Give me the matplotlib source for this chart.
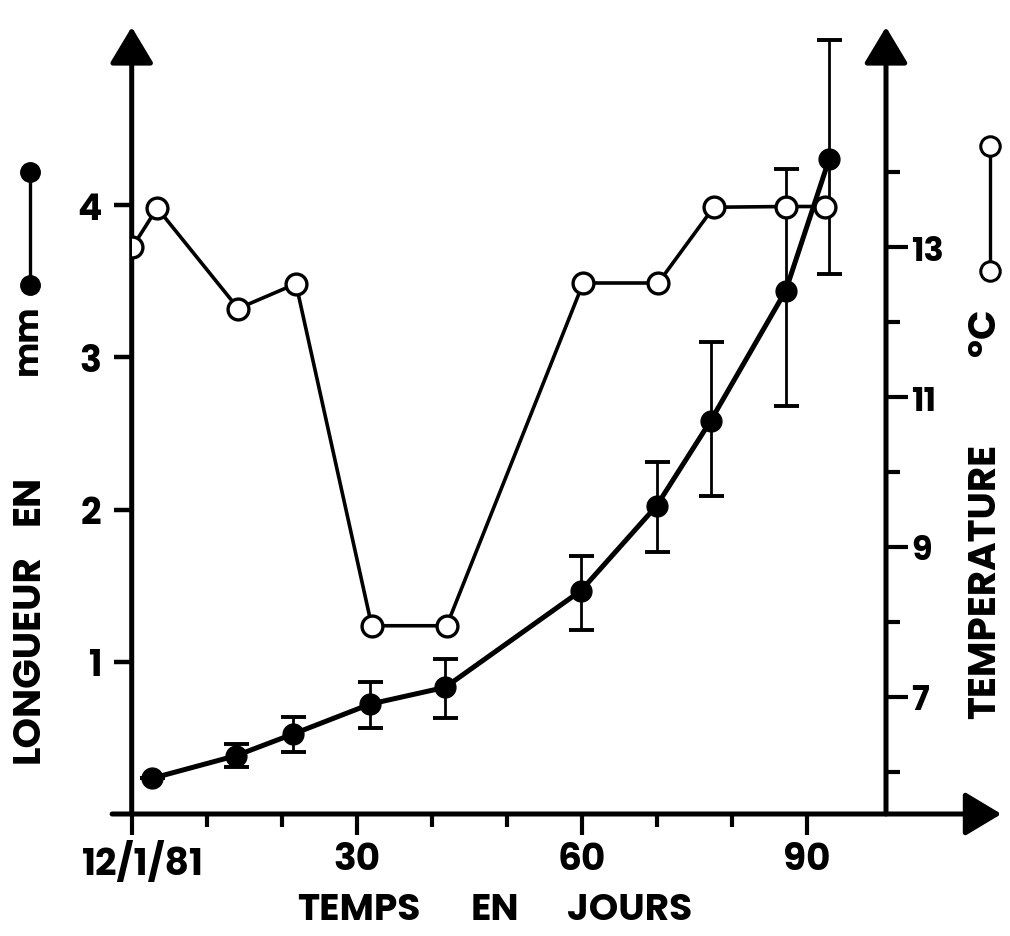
import matplotlib
matplotlib.use("Agg")
import matplotlib.pyplot as plt
from matplotlib.lines import Line2D
from matplotlib.patches import ArrowStyle
from matplotlib.ticker import FixedLocator
from matplotlib.transforms import ScaledTranslation

# ---------------- data ----------------
days_len = [2.7, 13.9, 21.5, 31.8, 41.8, 59.9, 70.0, 77.2, 87.2, 93.0]
length_mm = [0.234, 0.383, 0.525, 0.722, 0.832, 1.467, 2.025, 2.583, 3.437, 4.302]
length_low = [0.234, 0.307, 0.409, 0.565, 0.629, 1.211, 1.719, 2.09, 2.68, 3.547]
length_high = [0.234, 0.46, 0.635, 0.865, 1.018, 1.697, 2.314, 3.10, 4.235, 5.086]

days_temp = [0.1, 3.4, 14.2, 21.9, 32.0, 42.0, 60.2, 70.2, 77.6, 87.2, 92.5]
temp_c = [13.0, 13.52, 12.18, 12.51, 7.95, 7.95, 12.52, 12.52, 13.53, 13.54, 13.54]

x_major = [0, 30, 60, 90]
x_major_labels = ["12/1/81", "30", "60", "90"]
x_minor = [10, 20, 40, 50, 70, 80]
len_ticks = [1, 2, 3, 4]
temp_major = [7, 9, 11, 13]
temp_minor = [6, 8, 10, 12, 14]

# ---------------- fonts ----------------
FONT = ["Poppins", "Montserrat", "Liberation Sans", "DejaVu Sans"]

W, H = 1010, 937
fig = plt.figure(figsize=(W / 100, H / 100), dpi=100)
x0, x1 = 131.7, 886.0
y0, y1 = 815.0, 28.0
ax = fig.add_axes([x0 / W, (H - y0) / H, (x1 - x0) / W, (y0 - y1) / H])
ax.set_xlim(0, (x1 - x0) / 7.5)
ax.set_ylim(0, (y0 - y1) / 152.25)
for s in ax.spines.values():
    s.set_visible(False)

ax2 = ax.twinx()
ax2.set_ylim(13 - (y0 - 248) / 75.0, 13 + (248 - y1) / 75.0)
for s in ax2.spines.values():
    s.set_visible(False)

# ---------------- hand-drawn style axes with arrows ----------------
arrow = ArrowStyle("-|>", head_length=0.45, head_width=0.27)
kw = dict(arrowprops=dict(arrowstyle=arrow, mutation_scale=50, lw=3.6, color="black",
                          shrinkA=0, shrinkB=0),
          xycoords="axes fraction", textcoords="axes fraction", annotation_clip=False)
ax.annotate("", xy=(1.153, 0), xytext=(-0.026, 0), **kw)
ax.annotate("", xy=(0, 1.0), xytext=(0, 0), **kw)
ax.annotate("", xy=(1, 1.0), xytext=(1, 0), **kw)

# ---------------- ticks ----------------
ax.xaxis.set_major_locator(FixedLocator(x_major))
ax.xaxis.set_minor_locator(FixedLocator(x_minor))
ax.set_xticklabels(x_major_labels)
ax.tick_params(axis="x", which="major", direction="out", length=15, width=3.0, pad=5,
               labelsize=27, top=False)
ax.tick_params(axis="x", which="minor", direction="out", length=9, width=3.0)
ax.yaxis.set_major_locator(FixedLocator(len_ticks))
ax.tick_params(axis="y", which="major", direction="out", length=13, width=3.2, pad=9,
               labelsize=26, right=False)
for lab in ax.get_xticklabels() + ax.get_yticklabels():
    lab.set_family(FONT)
    lab.set_weight("bold")
first = ax.xaxis.get_major_ticks()[0].label1
first.set_transform(first.get_transform() + ScaledTranslation(0.11, 0, fig.dpi_scale_trans))

ax2.yaxis.set_major_locator(FixedLocator(temp_major))
ax2.yaxis.set_minor_locator(FixedLocator(temp_minor))
ax2.tick_params(axis="y", which="major", direction="out", length=16, width=3.0, pad=2,
                labelsize=24)
ax2.tick_params(axis="y", which="minor", direction="out", length=10, width=3.0)
for lab in ax2.get_yticklabels():
    lab.set_family(FONT)
    lab.set_weight("bold")

# ---------------- data marks ----------------
yerr = [[m - lo for m, lo in zip(length_mm, length_low)],
        [hi - m for m, hi in zip(length_mm, length_high)]]
ax.errorbar(days_len, length_mm, yerr=yerr, fmt="none", ecolor="black", elinewidth=2.0,
            capsize=9, capthick=2.8, zorder=2)
ax.plot(days_len, length_mm, color="black", lw=3.6, marker="o", markersize=15,
        markerfacecolor="black", markeredgecolor="black", zorder=3)

ax2.plot(days_temp, temp_c, color="black", lw=2.6, marker="o", markersize=15,
         markerfacecolor="white", markeredgecolor="black", markeredgewidth=2.4, zorder=3)

# ---------------- legend keys ----------------
fig.add_artist(Line2D([30 / W, 30 / W], [1 - 173 / H, 1 - 286 / H], transform=fig.transFigure,
                      color="black", lw=2.4, marker="o", markersize=14,
                      markerfacecolor="black", markeredgecolor="black"))
fig.add_artist(Line2D([990 / W, 990 / W], [1 - 147 / H, 1 - 272 / H], transform=fig.transFigure,
                      color="black", lw=2.4, marker="o", markersize=14,
                      markerfacecolor="white", markeredgecolor="black", markeredgewidth=2.2))

# ---------------- axis labels (word by word, as spaced in the original) ----------------
lab_kw = dict(ha="center", va="center", fontweight="bold", family=FONT)
fig.text(29 / W, 1 - 659 / H, "LONGUEUR", rotation=90, fontsize=28, **lab_kw)
fig.text(29 / W, 1 - 500 / H, "EN", rotation=90, fontsize=28, **lab_kw)
fig.text(29 / W, 1 - 340 / H, "mm", rotation=90, fontsize=24, **lab_kw)
fig.text(986 / W, 1 - 581 / H, "TEMPERATURE", rotation=90, fontsize=28, **lab_kw)
fig.text(986 / W, 1 - 332 / H, "°C", rotation=90, fontsize=28, **lab_kw)
for word, xc in [("TEMPS", 359), ("EN", 495), ("JOURS", 630)]:
    fig.text(xc / W, 1 - 912 / H, word, fontsize=27, **lab_kw)

fig.savefig("out.png", dpi=100)
